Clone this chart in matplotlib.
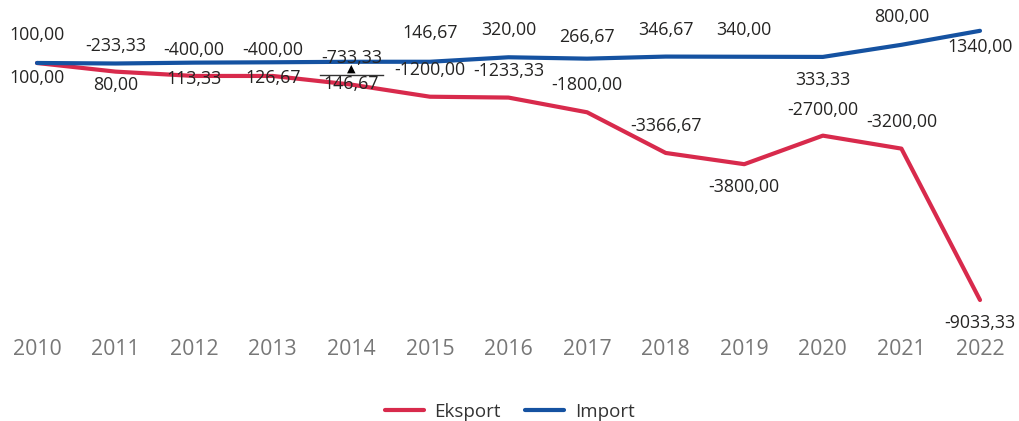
import matplotlib.pyplot as plt
from matplotlib.transforms import offset_copy

years = [2010, 2011, 2012, 2013, 2014, 2015, 2016, 2017, 2018, 2019, 2020, 2021, 2022]
eksport = [100.00, -233.33, -400.00, -400.00, -733.33, -1200.00, -1233.33,
           -1800.00, -3366.67, -3800.00, -2700.00, -3200.00, -9033.33]
impor = [100.00, 80.00, 113.33, 126.67, 146.67, 146.67, 320.00,
         266.67, 346.67, 340.00, 333.33, 800.00, 1340.00]

# label offsets in pixels (positive = above the point)
eks_dy = [-15, 26, 26, 26, 27, 27, 27, 27, 27, -23, 26, 27, -23]
imp_dy = [28, -22, -16, -16, -22, 29, 27, 22, 27, 27, -23, 28, -16]

RED = '#D82A4C'
BLUE = '#1552A1'

plt.rcParams['font.family'] = ['Open Sans', 'DejaVu Sans']

fig = plt.figure(figsize=(10.19, 4.21), dpi=100)
ax = fig.add_axes([37 / 1019, 121 / 421, 943 / 1019, 269.2 / 421])

ax.plot(years, eksport, color=RED, lw=3, label='Eksport', clip_on=False, solid_capstyle='round')
ax.plot(years, impor, color=BLUE, lw=3, label='Import', clip_on=False, solid_capstyle='round')

def fmt(v):
    return f'{v:.2f}'.replace('.', ',')

for x, v, dy in zip(years, eksport, eks_dy):
    ax.annotate(fmt(v), (x, v), xytext=(0, dy * 0.72), textcoords='offset points',
                ha='center', va='center', fontsize=12.8, color='#252423')
for x, v, dy in zip(years, impor, imp_dy):
    ax.annotate(fmt(v), (x, v), xytext=(0, dy * 0.72), textcoords='offset points',
                ha='center', va='center', fontsize=12.8, color='#252423')

# small marker glyph near 2014
tr = offset_copy(ax.transData, fig=fig, y=-13, units='dots')
ax.plot([2013.6, 2014.4], [impor[4], impor[4]], color='#333333', lw=1, transform=tr)
ax.annotate('▲', (2014, impor[4]), xytext=(0, -5), textcoords='offset points',
            ha='center', va='center', fontsize=8, color='black')

ax.set_xlim(2010, 2022)
ax.set_ylim(-9033.33, 1340)
ax.set_xticks(years)
ax.set_xticklabels([str(y) for y in years], fontsize=15.3, color='#777777')
ax.tick_params(axis='x', length=0, pad=28)
ax.set_yticks([])
for s in ax.spines.values():
    s.set_visible(False)

fig.legend(loc='center', bbox_to_anchor=(0.5, 1 - 412 / 421), ncol=2, frameon=False,
           fontsize=13.5, handlelength=2.1, handletextpad=0.55, columnspacing=1.3,
           labelcolor='#333333')

fig.savefig('out.png', dpi=100)
